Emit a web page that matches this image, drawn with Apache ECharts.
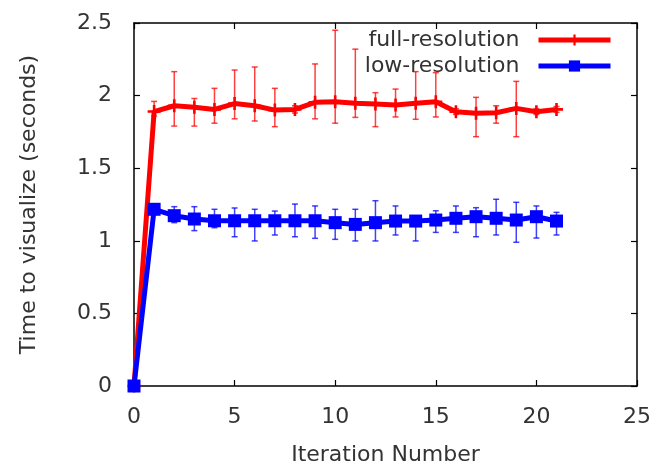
<!DOCTYPE html>
<html><head><meta charset="utf-8">
<script src="https://cdn.jsdelivr.net/npm/echarts@6/dist/echarts.min.js"></script>
<style>html,body{margin:0;padding:0;background:#fff}#c{width:656px;height:463px}</style>
</head><body><div id="c"></div>
<script>
const iterations = [0,1,2,3,4,5,6,7,8,9,10,11,12,13,14,15,16,17,18,19,20,21];
const fullMean = [0,1.89,1.93,1.92,1.905,1.945,1.93,1.90,1.905,1.954,1.958,1.947,1.942,1.935,1.947,1.958,1.889,1.878,1.882,1.912,1.889,1.905];
const fullLow  = [0,1.86,1.79,1.79,1.81,1.84,1.825,1.786,1.88,1.84,1.81,1.85,1.786,1.853,1.837,1.853,1.87,1.717,1.81,1.717,1.87,1.885];
const fullHigh = [0,1.96,2.165,1.98,2.05,2.176,2.197,2.05,1.93,2.218,2.45,2.32,2.02,2.045,2.165,2.158,1.91,1.988,1.93,2.098,1.91,1.925];
const lowMean  = [0,1.217,1.173,1.15,1.138,1.138,1.138,1.138,1.138,1.138,1.125,1.113,1.125,1.136,1.136,1.143,1.155,1.166,1.155,1.143,1.166,1.136];
const lowLow   = [0,1.19,1.125,1.07,1.09,1.028,0.999,1.04,1.028,1.017,1.01,0.999,0.999,1.04,0.999,1.058,1.058,1.028,1.04,0.99,1.019,1.04];
const lowHigh  = [0,1.24,1.235,1.235,1.217,1.226,1.217,1.205,1.253,1.24,1.217,1.217,1.276,1.24,1.17,1.207,1.24,1.228,1.286,1.265,1.24,1.196];
const xTicks = [0,5,10,15,20,25];
const yTicks = [0,0.5,1,1.5,2,2.5];
const seriesNames = ['full-resolution','low-resolution'];

const FONT = 'DejaVu Sans';
const TXT = '#333333';
const FS = 22;

function errData(lo, hi){ return iterations.map((x,i)=>[x, lo[i], hi[i]]); }
function errRender(color){
  return function(params, api){
    const x = api.value(0);
    const p1 = api.coord([x, api.value(1)]);
    const p2 = api.coord([x, api.value(2)]);
    const w = 3;
    const st = {stroke: color, lineWidth: 1.5, opacity: 0.75};
    return {type:'group', children:[
      {type:'line', shape:{x1:p1[0],y1:p1[1],x2:p2[0],y2:p2[1]}, style:st},
      {type:'line', shape:{x1:p1[0]-w,y1:p1[1],x2:p1[0]+w,y2:p1[1]}, style:st},
      {type:'line', shape:{x1:p2[0]-w,y1:p2[1],x2:p2[0]+w,y2:p2[1]}, style:st}
    ]};
  };
}

const axisCommon = {
  axisLine:{show:true, onZero:false, lineStyle:{color:'#000', width:1.5}},
  axisTick:{show:true, inside:true, length:6, lineStyle:{color:'#000', width:1.2}},
  splitLine:{show:false}
};

const chart = echarts.init(document.getElementById('c'), null, {renderer:'canvas'});
chart.setOption({
  animation:false,
  backgroundColor:'#fff',
  grid:{left:134, right:19, top:23, bottom:77, outerBoundsMode:'none', containLabel:false},
  legend:{
    data: seriesNames,
    orient:'vertical', right:38, top:24, align:'right',
    itemWidth:72, itemHeight:14, itemGap:4,
    lineStyle:{width:5},
    textStyle:{fontFamily:FONT, fontSize:FS, color:TXT, padding:[0,14,0,0]}
  },
  xAxis:[
    Object.assign({type:'value', min:xTicks[0], max:xTicks[xTicks.length-1], interval:5,
      name:'Iteration Number', nameLocation:'middle', nameGap:58,
      nameTextStyle:{fontFamily:FONT, fontSize:FS, color:TXT},
      axisLabel:{fontFamily:FONT, fontSize:FS, color:TXT, margin:20}}, axisCommon),
    Object.assign({type:'value', position:'top', min:xTicks[0], max:xTicks[xTicks.length-1], interval:5,
      axisLabel:{show:false}}, axisCommon)
  ],
  yAxis:[
    Object.assign({type:'value', min:yTicks[0], max:yTicks[yTicks.length-1], interval:0.5,
      name:'Time to visualize (seconds)', nameLocation:'middle', nameGap:94,
      nameTextStyle:{fontFamily:FONT, fontSize:FS, color:TXT},
      axisLabel:{fontFamily:FONT, fontSize:FS, color:TXT, margin:22}}, axisCommon),
    Object.assign({type:'value', position:'right', min:yTicks[0], max:yTicks[yTicks.length-1], interval:0.5,
      axisLabel:{show:false}}, axisCommon)
  ],
  series:[
    {type:'custom', name:'full-err', renderItem: errRender('#ff0000'), data: errData(fullLow, fullHigh), z:1, silent:true},
    {type:'line', name:seriesNames[0], data: iterations.map((x,i)=>[x, fullMean[i]]),
      lineStyle:{color:'#ff0000', width:5}, itemStyle:{color:'#ff0000'},
      symbol:'path://M4,0h2v4h4v2h-4v4h-2v-4h-4v-2h4z', symbolSize:13, showAllSymbol:true, z:2},
    {type:'custom', name:'low-err', renderItem: errRender('#0000ff'), data: errData(lowLow, lowHigh), z:3, silent:true},
    {type:'line', name:seriesNames[1], data: iterations.map((x,i)=>[x, lowMean[i]]),
      lineStyle:{color:'#0000ff', width:5}, itemStyle:{color:'#0000ff'},
      symbol:'rect', symbolSize:13, showAllSymbol:true, z:4}
  ]
});
</script></body></html>
